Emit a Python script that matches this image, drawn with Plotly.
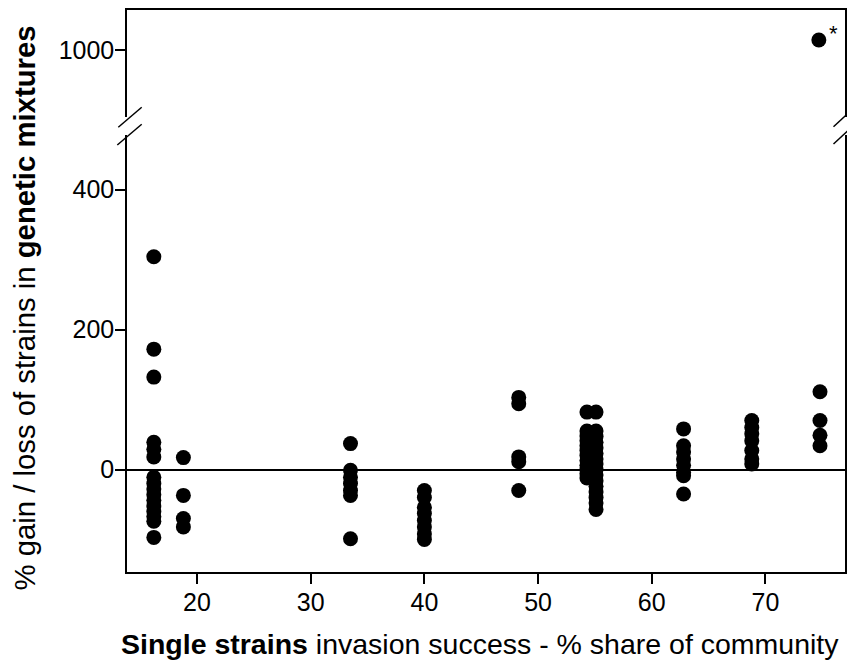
import plotly.graph_objects as go

# ---------------- data ----------------
col1_x = 16.2
col1_y = [304, 172, 132, 39, 29, 18, -11, -20, -28, -36, -44, -52, -60, -67, -74, -97]
col2_x = 18.8
col2_y = [17, -37, -70, -82]
col3_x = 33.5
col3_y = [37, -1, -11, -20, -30, -37, -99]
col4_x = 40.0
col4_y = [-30, -40, -54, -63, -73, -82, -92, -100]
col5_x = 48.3
col5_y = [103, 94, 18, 11, -30]
col6a_x = 54.3
col6a_y = [82, 55, 48, 41, 34, 27, 20, 13, 6, 0, -6, -12]
col6b_x = 55.1
col6b_y = [82, 55, 47, 39, 31, 23, 15, 8, 0, -8, -16, -24, -32, -40, -48, -57]
col7_x = 62.8
col7_y = [58, 34, 25, 15, 6, -4, -9, -35]
col8_x = 68.8
col8_y = [70, 60, 51, 41, 27, 15, 8]
col9_x = 74.8
col9_y = [111, 70, 49, 34]
outlier_x = [74.7]
outlier_y = [1014]

x_ticks = [20, 30, 40, 50, 60, 70]
y_ticks_low = [0, 200, 400]
y_ticks_high = [1000]

groups = [(col1_x, col1_y), (col2_x, col2_y), (col3_x, col3_y), (col4_x, col4_y),
          (col5_x, col5_y), (col6a_x, col6a_y), (col6b_x, col6b_y), (col7_x, col7_y),
          (col8_x, col8_y), (col9_x, col9_y)]
xs, ys = [], []
for gx, gy in groups:
    xs += [gx] * len(gy)
    ys += gy

# ---------------- layout geometry ----------------
# The page body has an 8px default margin, so the figure is sized to fit.
OFF = 8
W, H = 855 - OFF, 664 - OFF
PLOT_L, PLOT_R, PLOT_T, PLOT_B = 127, 845, 10, 572   # page pixel positions
ML, MT = PLOT_L - OFF, PLOT_T - OFF
MR, MB = W - (PLOT_R - OFF), H - (PLOT_B - OFF)
PW, PH = PLOT_R - PLOT_L, PLOT_B - PLOT_T

def pxx(xpage):
    return (xpage - PLOT_L) / PW

def pxy(ypage):
    return (PLOT_B - ypage) / PH

FONT = "Liberation Sans, Arial, sans-serif"
LW = 1.5

fig = go.Figure()
fig.add_trace(go.Scatter(x=xs, y=ys, mode="markers", xaxis="x", yaxis="y",
                         marker=dict(size=15, color="black"), showlegend=False))
fig.add_trace(go.Scatter(x=outlier_x, y=outlier_y, mode="markers", xaxis="x2", yaxis="y2",
                         marker=dict(size=15, color="black"), showlegend=False))

axis_common = dict(showgrid=False, showline=True, linecolor="black", linewidth=LW,
                   ticks="outside", ticklen=10, tickwidth=LW, tickcolor="black",
                   tickfont=dict(family=FONT, size=25, color="black"))

fig.update_layout(
    width=W, height=H,
    margin=dict(l=ML, r=MR, t=MT, b=MB, pad=0),
    paper_bgcolor="white", plot_bgcolor="white",
    xaxis=dict(axis_common, range=[13.84, 77.0], tickvals=x_ticks, anchor="y",
               zeroline=False, domain=[0, 1], ticklabelstandoff=-3),
    xaxis2=dict(showgrid=False, showline=True, linecolor="black", linewidth=LW,
                matches="x", anchor="y2", side="top", showticklabels=False,
                ticks="", zeroline=False, domain=[0, 1]),
    yaxis=dict(axis_common, domain=[0, pxy(135)], range=[-146.4, 477.9],
               tickvals=y_ticks_low, mirror=True, zeroline=True,
               zerolinecolor="black", zerolinewidth=LW, anchor="x",
               ticklabelstandoff=-4),
    yaxis2=dict(axis_common, domain=[pxy(117), 1], range=[904, 1057],
                tickvals=y_ticks_high, mirror=True, zeroline=False, anchor="x2",
                ticklabelstandoff=-4),
    font=dict(family=FONT, color="black"),
)

# titles
fig.add_annotation(xref="paper", yref="paper", x=pxx(480), y=pxy(644),
                   xanchor="center", yanchor="middle", showarrow=False,
                   text="<b>Single strains</b> invasion success - % share of community",
                   font=dict(family=FONT, size=28.5, color="black"))
fig.add_annotation(xref="paper", yref="paper", x=pxx(24), y=pxy(308.5),
                   xanchor="center", yanchor="middle", showarrow=False, textangle=-90,
                   text="% gain / loss of strains in <b>genetic mixtures</b>",
                   font=dict(family=FONT, size=29.3, color="black"))
# asterisk next to outlier
fig.add_annotation(xref="x2", yref="y2", x=outlier_x[0], y=outlier_y[0],
                   text="*", showarrow=False, xshift=15, yshift=7,
                   font=dict(family=FONT, size=22, color="black"))

# axis break marks (page pixel coordinates)
slashes = [((118.3, 127.3), (141.7, 107.3)), ((117.3, 145.0), (141.7, 124.3)),
           ((833.5, 126.7), (856.0, 106.0)), ((833.5, 144.0), (856.0, 123.3))]
for (x0, y0), (x1, y1) in slashes:
    fig.add_shape(type="line", xref="paper", yref="paper",
                  x0=pxx(x0), y0=pxy(y0), x1=pxx(x1), y1=pxy(y1),
                  line=dict(color="black", width=LW))

fig.write_html("out.html")
